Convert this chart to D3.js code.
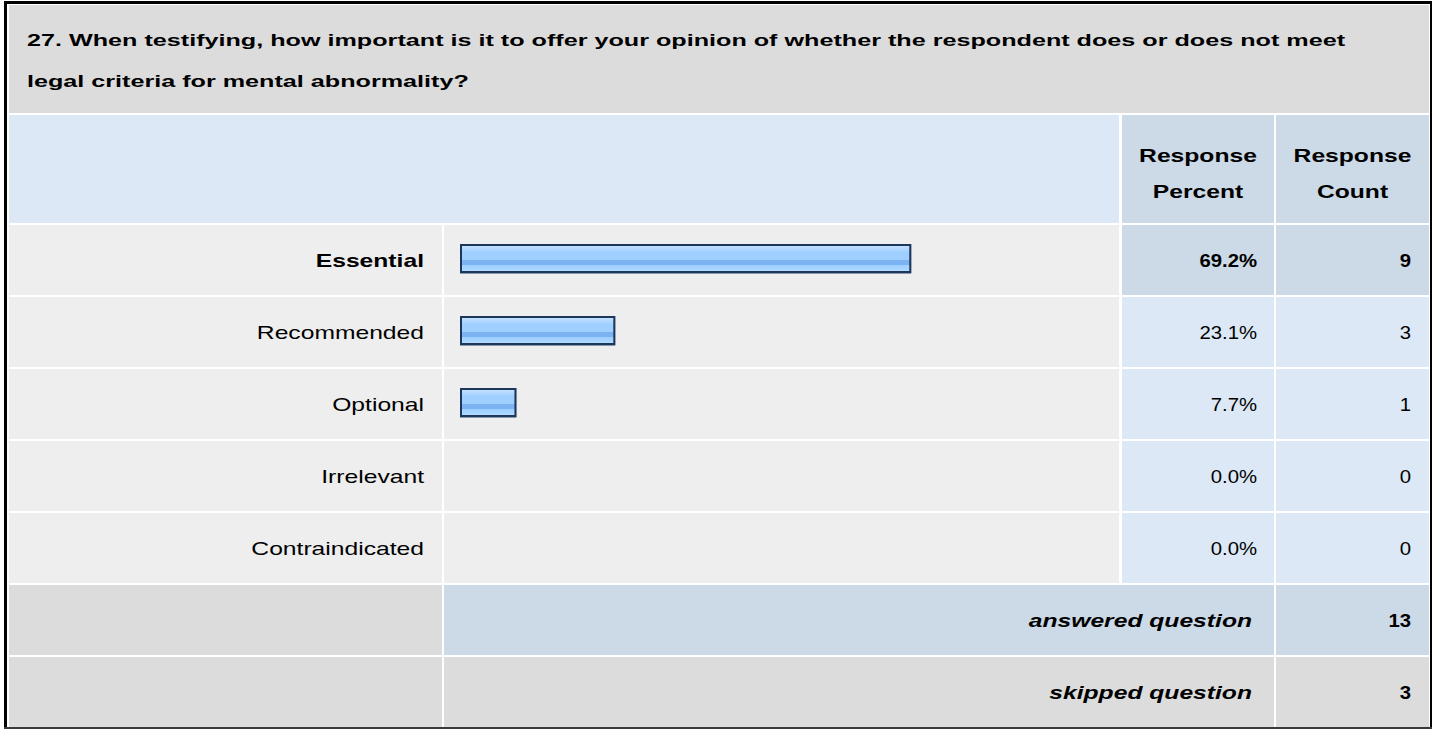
<!DOCTYPE html>
<html>
<head>
<meta charset="utf-8">
<script src="https://cdn.jsdelivr.net/npm/d3@7"></script>
<style>
  html, body { margin: 0; padding: 0; background: #ffffff; }
  svg { display: block; }
  text { font-family: "Liberation Sans", Arial, sans-serif; }
</style>
</head>
<body>
<svg id="chart" width="1432" height="730"></svg>
<script>
// ---------- data ----------
const titleLines = [
  "27. When testifying, how important is it to offer your opinion of whether the respondent does or does not meet",
  "legal criteria for mental abnormality?"
];
const headerPercent = ["Response", "Percent"];
const headerCount = ["Response", "Count"];
const categories = ["Essential", "Recommended", "Optional", "Irrelevant", "Contraindicated"];
const percents = [69.2, 23.1, 7.7, 0.0, 0.0];
const counts = [9, 3, 1, 0, 0];
const summaryLabels = ["answered question", "skipped question"];
const summaryValues = [13, 3];

// ---------- layout ----------
const W = 1432, H = 730;
const svg = d3.select("#chart");
const FS = 18, SX = 1.37, NUM_SX = 1.13, TITLE_FS = 17, TITLE_SX = 1.48;

const colLabel = [9, 442], colBar = [444, 1119], colPct = [1122, 1274], colCnt = [1276, 1429];
const titleBox = [5, 113], headBox = [115, 223];

const C = {
  title: "#dcdcdc", head: "#dce8f5", headDark: "#ccd9e6",
  row: "#eeeeee", cell: "#dce8f5", cellDark: "#ccd9e6", sum: "#dcdcdc"
};

const rowKeys = categories.concat(summaryLabels);
const y = d3.scaleBand().domain(rowKeys).range([225, 727]).paddingInner(2 / 72).paddingOuter(0);
const x = d3.scaleLinear().domain([0, 100]).range([0, 642]);
const maxIdx = d3.maxIndex(percents);

// stretched text helper
function txt(g, tx, ty, s, opts) {
  const o = Object.assign({ anchor: "start", size: FS, sx: SX, weight: "normal", style: "normal" }, opts || {});
  return g.append("text")
    .attr("transform", `translate(${tx},${ty}) scale(${o.sx},1)`)
    .attr("text-anchor", o.anchor).attr("font-size", o.size)
    .attr("font-weight", o.weight).attr("font-style", o.style).attr("fill", "#000")
    .text(s);
}

// outer border
svg.append("rect").attr("x", 0).attr("y", 0).attr("width", W).attr("height", H).attr("fill", "#fff");
svg.append("path")
  .attr("d", `M5.5,729 V2.5 H1431`)
  .attr("fill", "none").attr("stroke", "#000").attr("stroke-width", 3);
svg.append("line").attr("x1", 1431).attr("x2", 1431).attr("y1", 1).attr("y2", 729)
  .attr("stroke", "#000").attr("stroke-width", 2);
svg.append("line").attr("x1", 4).attr("x2", 1432).attr("y1", 728).attr("y2", 728)
  .attr("stroke", "#3a3a3a").attr("stroke-width", 2);

function cell(x0, x1, y0, y1, fill) {
  svg.append("rect").attr("x", x0).attr("y", y0).attr("width", x1 - x0).attr("height", y1 - y0).attr("fill", fill);
}

// title
cell(colLabel[0], colCnt[1], titleBox[0], titleBox[1], C.title);
titleLines.forEach((t, i) => txt(svg, 27, 46 + i * 41, t, { size: TITLE_FS, sx: TITLE_SX, weight: "bold" }));

// header
cell(colLabel[0], colBar[1], headBox[0], headBox[1], C.head);
cell(colPct[0], colPct[1], headBox[0], headBox[1], C.headDark);
cell(colCnt[0], colCnt[1], headBox[0], headBox[1], C.headDark);
[[colPct, headerPercent], [colCnt, headerCount]].forEach(([col, lines]) => {
  lines.forEach((t, i) => txt(svg, (col[0] + col[1]) / 2, 162 + i * 36, t, { anchor: "middle", weight: "bold" }));
});

// gradient for bars
const defs = svg.append("defs");
const grad = defs.append("linearGradient").attr("id", "barGrad").attr("x1", 0).attr("x2", 0).attr("y1", 0).attr("y2", 1);
[[0, "#c6e3ff"], [0.14, "#b3d9ff"], [0.28, "#9ecfff"], [0.56, "#9ecfff"], [0.57, "#7bb3f2"],
 [0.74, "#7bb3f2"], [0.75, "#9ecfff"], [0.9, "#a9d5ff"], [1, "#bde0ff"]]
  .forEach(([o, c]) => grad.append("stop").attr("offset", o).attr("stop-color", c));

// data rows
const rowData = categories.map((c, i) => ({ c, p: percents[i], n: counts[i], i }));
rowData.forEach(d => {
  const y0 = y(d.c), y1 = y0 + y.bandwidth();
  const dark = d.i === maxIdx;
  cell(colLabel[0], colLabel[1], y0, y1, C.row);
  cell(colBar[0], colBar[1], y0, y1, C.row);
  cell(colPct[0], colPct[1], y0, y1, dark ? C.cellDark : C.cell);
  cell(colCnt[0], colCnt[1], y0, y1, dark ? C.cellDark : C.cell);
});
const gText = svg.append("g");
rowData.forEach(d => {
  const ty = y(d.c) + y.bandwidth() / 2 + 7;
  const w = d.i === maxIdx ? "bold" : "normal";
  txt(gText, colLabel[1] - 18, ty, d.c, { anchor: "end", weight: w });
  txt(gText, colPct[1] - 17, ty, d.p.toFixed(1) + "%", { anchor: "end", weight: w, sx: NUM_SX });
  txt(gText, colCnt[1] - 18, ty, String(d.n), { anchor: "end", weight: w, sx: NUM_SX });
});

// bars
const barData = rowData.filter(d => d.p > 0);
const barX = colBar[0] + 16;
const bars = svg.append("g").selectAll("g").data(barData).join("g");
bars.append("rect") // shadow
  .attr("x", barX).attr("y", d => y(d.c) + 19)
  .attr("width", d => x(d.p) + 7).attr("height", 30)
  .attr("fill", "#8a99ab");
bars.append("rect")
  .attr("x", barX + 1).attr("y", d => y(d.c) + 20)
  .attr("width", d => x(d.p) + 5).attr("height", 27)
  .attr("fill", "url(#barGrad)").attr("stroke", "#1d365c").attr("stroke-width", 2);

// summary rows
summaryLabels.forEach((lab, i) => {
  const y0 = y(lab), y1 = y0 + y.bandwidth();
  const fill = i === 0 ? C.cellDark : C.sum;
  cell(colLabel[0], colLabel[1], y0, y1, C.sum);
  cell(colBar[0], colPct[1], y0, y1, fill);
  cell(colCnt[0], colCnt[1], y0, y1, fill);
  const ty = y0 + y.bandwidth() / 2 + 7;
  txt(svg, colPct[1] - 22, ty, lab, { anchor: "end", weight: "bold", style: "italic" });
  txt(svg, colCnt[1] - 18, ty, String(summaryValues[i]), { anchor: "end", weight: "bold", sx: NUM_SX });
});
</script>
</body>
</html>
